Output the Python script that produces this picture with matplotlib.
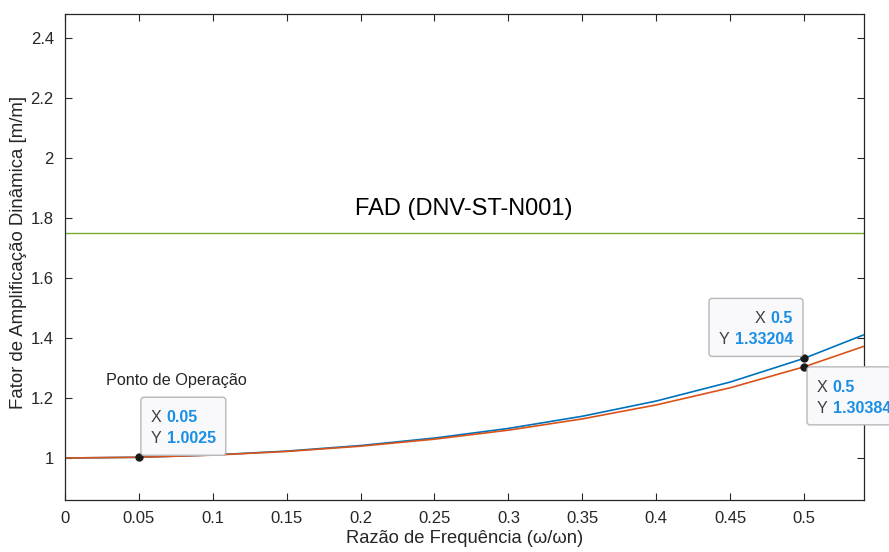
import matplotlib.pyplot as plt
from matplotlib.patches import FancyBboxPatch
from matplotlib.transforms import IdentityTransform

plt.rcParams['font.family'] = ['Liberation Sans', 'DejaVu Sans']

# razão de frequência e fatores de amplificação das duas curvas
razao = [0, 0.05, 0.1, 0.15, 0.2, 0.25, 0.3, 0.35, 0.4, 0.45, 0.5, 0.54]
fad_azul = [1.0, 1.0025, 1.0101, 1.0230, 1.0416, 1.0665, 1.0986, 1.1392, 1.1899, 1.2531, 1.33204, 1.4098]
fad_laranja = [1.0, 1.0024, 1.0096, 1.0218, 1.0394, 1.0628, 1.0928, 1.1304, 1.1769, 1.2340, 1.30384, 1.3714]
fad_norma = 1.75  # limite DNV-ST-N001

xticks = [0, 0.05, 0.1, 0.15, 0.2, 0.25, 0.3, 0.35, 0.4, 0.45, 0.5]
xtick_labels = ['0', '0.05', '0.1', '0.15', '0.2', '0.25', '0.3', '0.35', '0.4', '0.45', '0.5']
yticks = [1, 1.2, 1.4, 1.6, 1.8, 2, 2.2, 2.4]
ytick_labels = ['1', '1.2', '1.4', '1.6', '1.8', '2', '2.2', '2.4']

cinza = '#262626'
azul_dica = '#1A8FE3'
fs_dica = 11.6

fig = plt.figure(figsize=(8.89, 5.52), dpi=100)
ax = fig.add_axes([0.0731, 0.0942, 0.8988, 0.8804])

ax.plot(razao, fad_azul, color='#0072BD', lw=1.2)
ax.plot(razao, fad_laranja, color='#D95319', lw=1.2)
ax.axhline(fad_norma, color='#77AC30', lw=1.0)

ax.set_xlim(0, 0.5406)
ax.set_ylim(0.86, 2.48)
ax.set_xticks(xticks, xtick_labels)
ax.set_yticks(yticks, ytick_labels)
ax.tick_params(direction='in', top=True, right=True, length=5, width=0.8,
               colors=cinza, labelsize=12)
ax.tick_params(axis='x', pad=8)
ax.tick_params(axis='y', pad=8)
for s in ax.spines.values():
    s.set_color(cinza)
    s.set_linewidth(0.9)

ax.set_xlabel('Razão de Frequência (ω/ωn)', fontsize=13.2, color=cinza, labelpad=3)
ax.set_ylabel('Fator de Amplificação Dinâmica [m/m]', fontsize=13.4, color=cinza)
ax.yaxis.set_label_coords(-0.047, 0.51)

ax.text(0.2696, 1.81, 'FAD (DNV-ST-N001)', fontsize=17, ha='center', va='baseline', color='black')
ax.text(0.0751, 1.26, 'Ponto de Operação', fontsize=11.7, ha='center', va='center', color=cinza)

renderer = fig.canvas.get_renderer()


def largura(texto, **kw):
    t = fig.text(0, 0, texto, fontsize=fs_dica, **kw)
    w = t.get_window_extent(renderer).width
    t.remove()
    return w


# caixas de dados estilo datatip
def dica(xd, yd, lado):
    ax.plot(xd, yd, 'o', ms=5, mfc='#1a1a1a', mec='#1a1a1a', zorder=5, clip_on=False)
    px, py = ax.transData.transform((xd, yd))
    linhas = [('X', '%g' % xd), ('Y', '%g' % yd)]
    gap = 5
    larg = [largura(a) + gap + largura(b, fontweight='bold') for a, b in linhas]
    w = max(larg) + 20
    h = 58
    if lado == 'ne':
        x0, y0 = px + 2, py + 2
    elif lado == 'nw':
        x0, y0 = px - 1 - w, py + 2
    else:
        x0, y0 = px + 3, py - h
    caixa = FancyBboxPatch((x0, y0), w, h, boxstyle='round,pad=0,rounding_size=3',
                           transform=IdentityTransform(), fc='#F9F9FC', ec='#B8B8BC',
                           lw=1.0, zorder=10, clip_on=False)
    fig.add_artist(caixa)
    topo = y0 + h
    for i, (a, b) in enumerate(linhas):
        yc = topo - 20.5 - 21 * i
        wa = largura(a)
        wb = largura(b, fontweight='bold')
        if lado == 'nw':
            xb = x0 + w - 10 - wb
        else:
            xb = x0 + 10 + wa + gap
        xa = xb - gap - wa
        fig.text(xa, yc, a, fontsize=fs_dica, color='#404040', va='center',
                 transform=IdentityTransform(), zorder=11)
        fig.text(xb, yc, b, fontsize=fs_dica, color=azul_dica, fontweight='bold', va='center',
                 transform=IdentityTransform(), zorder=11)


dica(razao[1], fad_azul[1], 'ne')
dica(razao[10], fad_azul[10], 'nw')
dica(razao[10], fad_laranja[10], 'se')

fig.savefig('out.png', dpi=100)
